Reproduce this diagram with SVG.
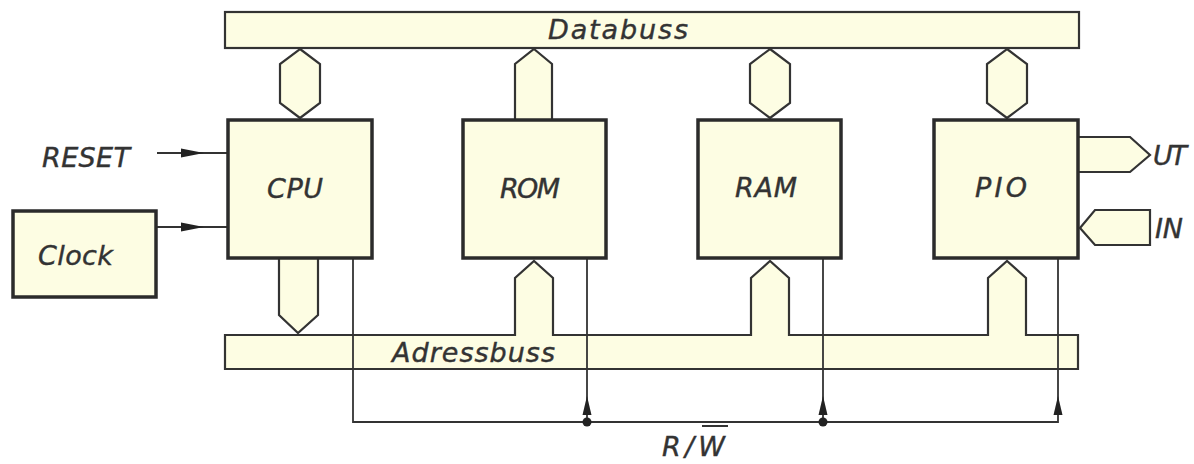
<svg xmlns="http://www.w3.org/2000/svg" width="1194" height="464" viewBox="0 0 1194 464">
<style>
.box{fill:#fdfde3;stroke:#2b2b2b;stroke-width:3.5}
.bus{fill:#fdfde3;stroke:#333;stroke-width:2.2;stroke-linejoin:miter}
.ln{fill:none;stroke:#333;stroke-width:1.8}
.ah{fill:#222;stroke:none}
.t{font-family:"DejaVu Sans","Liberation Sans",sans-serif;font-style:oblique;font-size:27px;fill:#333;stroke:#333;stroke-width:0.4}
</style>
<rect width="1194" height="464" fill="#ffffff"/>
<g id="databuss">
<rect class="bus" x="225" y="12" width="854" height="36"/>
<text class="t" x="548" y="39" textLength="140" lengthAdjust="spacing">Databuss</text>
</g>
<g id="adressbuss">
<path class="bus" d="M225,335 H515 V278 L534,261 L553,278 V335 H751 V278 L770,261 L789,278 V335 H988 V278 L1007,261 L1026,278 V335 H1078 V369 H225 Z"/>
<text class="t" x="392" y="362" textLength="163" lengthAdjust="spacing">Adressbuss</text>
</g>
<g id="connectors">
<path class="bus" d="M300,49 L320,64 V103 L300,118 L280,103 V64 Z"/>
<path class="bus" d="M534,49 L552,64 V120 H515 V64 Z"/>
<path class="bus" d="M770,49 L790,64 V103 L770,118 L750,103 V64 Z"/>
<path class="bus" d="M1007,49 L1027,64 V103 L1007,118 L987,103 V64 Z"/>
<path class="bus" d="M279,258 H318 V315 L298,333 L279,315 Z"/>
<path class="bus" d="M1078,137 H1130 L1150,155 L1130,172 H1078"/>
<path class="bus" d="M1080,228 L1095,210 H1150 V245 H1095 Z"/>
<path class="ln" d="M157,153 H228 M157,227 H228"/>
<polygon class="ah" points="204,153 181,148.5 181,157.5"/>
<polygon class="ah" points="204,227 181,222.5 181,231.5"/>
<path class="ln" d="M353,258 V422 H1058 V258 M587,258 V422 M823,258 V422"/>
<polygon class="ah" points="587,396 582.5,415 591.5,415"/>
<polygon class="ah" points="823,396 818.5,415 827.5,415"/>
<polygon class="ah" points="1058,396 1053.5,415 1062.5,415"/>
<circle class="ah" cx="587" cy="422" r="4.5"/>
<circle class="ah" cx="823" cy="422" r="4.5"/>
</g>
<g id="cpu">
<rect class="box" x="228" y="120" width="144" height="138"/>
<text class="t" x="267" y="198" textLength="56" lengthAdjust="spacing">CPU</text>
</g>
<g id="rom">
<rect class="box" x="463" y="120" width="143" height="138"/>
<text class="t" x="500" y="198" textLength="60" lengthAdjust="spacing">ROM</text>
</g>
<g id="ram">
<rect class="box" x="698" y="120" width="143" height="138"/>
<text class="t" x="735" y="197" textLength="62" lengthAdjust="spacing">RAM</text>
</g>
<g id="pio">
<rect class="box" x="934" y="120" width="144" height="138"/>
<text class="t" x="975" y="197" textLength="52" lengthAdjust="spacing">PIO</text>
</g>
<g id="clock">
<rect class="box" x="13" y="211" width="143" height="86"/>
<text class="t" x="38" y="265" textLength="75" lengthAdjust="spacing">Clock</text>
</g>
<g id="labels">
<text class="t" x="42" y="167" textLength="88" lengthAdjust="spacing">RESET</text>
<text class="t" x="1153" y="165" textLength="34" lengthAdjust="spacing">UT</text>
<text class="t" x="1155" y="238" textLength="28" lengthAdjust="spacing">IN</text>
<text class="t" x="662" y="456" textLength="63" lengthAdjust="spacing">R/W</text>
<line x1="702" y1="426" x2="728" y2="426" stroke="#333" stroke-width="2"/>
</g>
</svg>
